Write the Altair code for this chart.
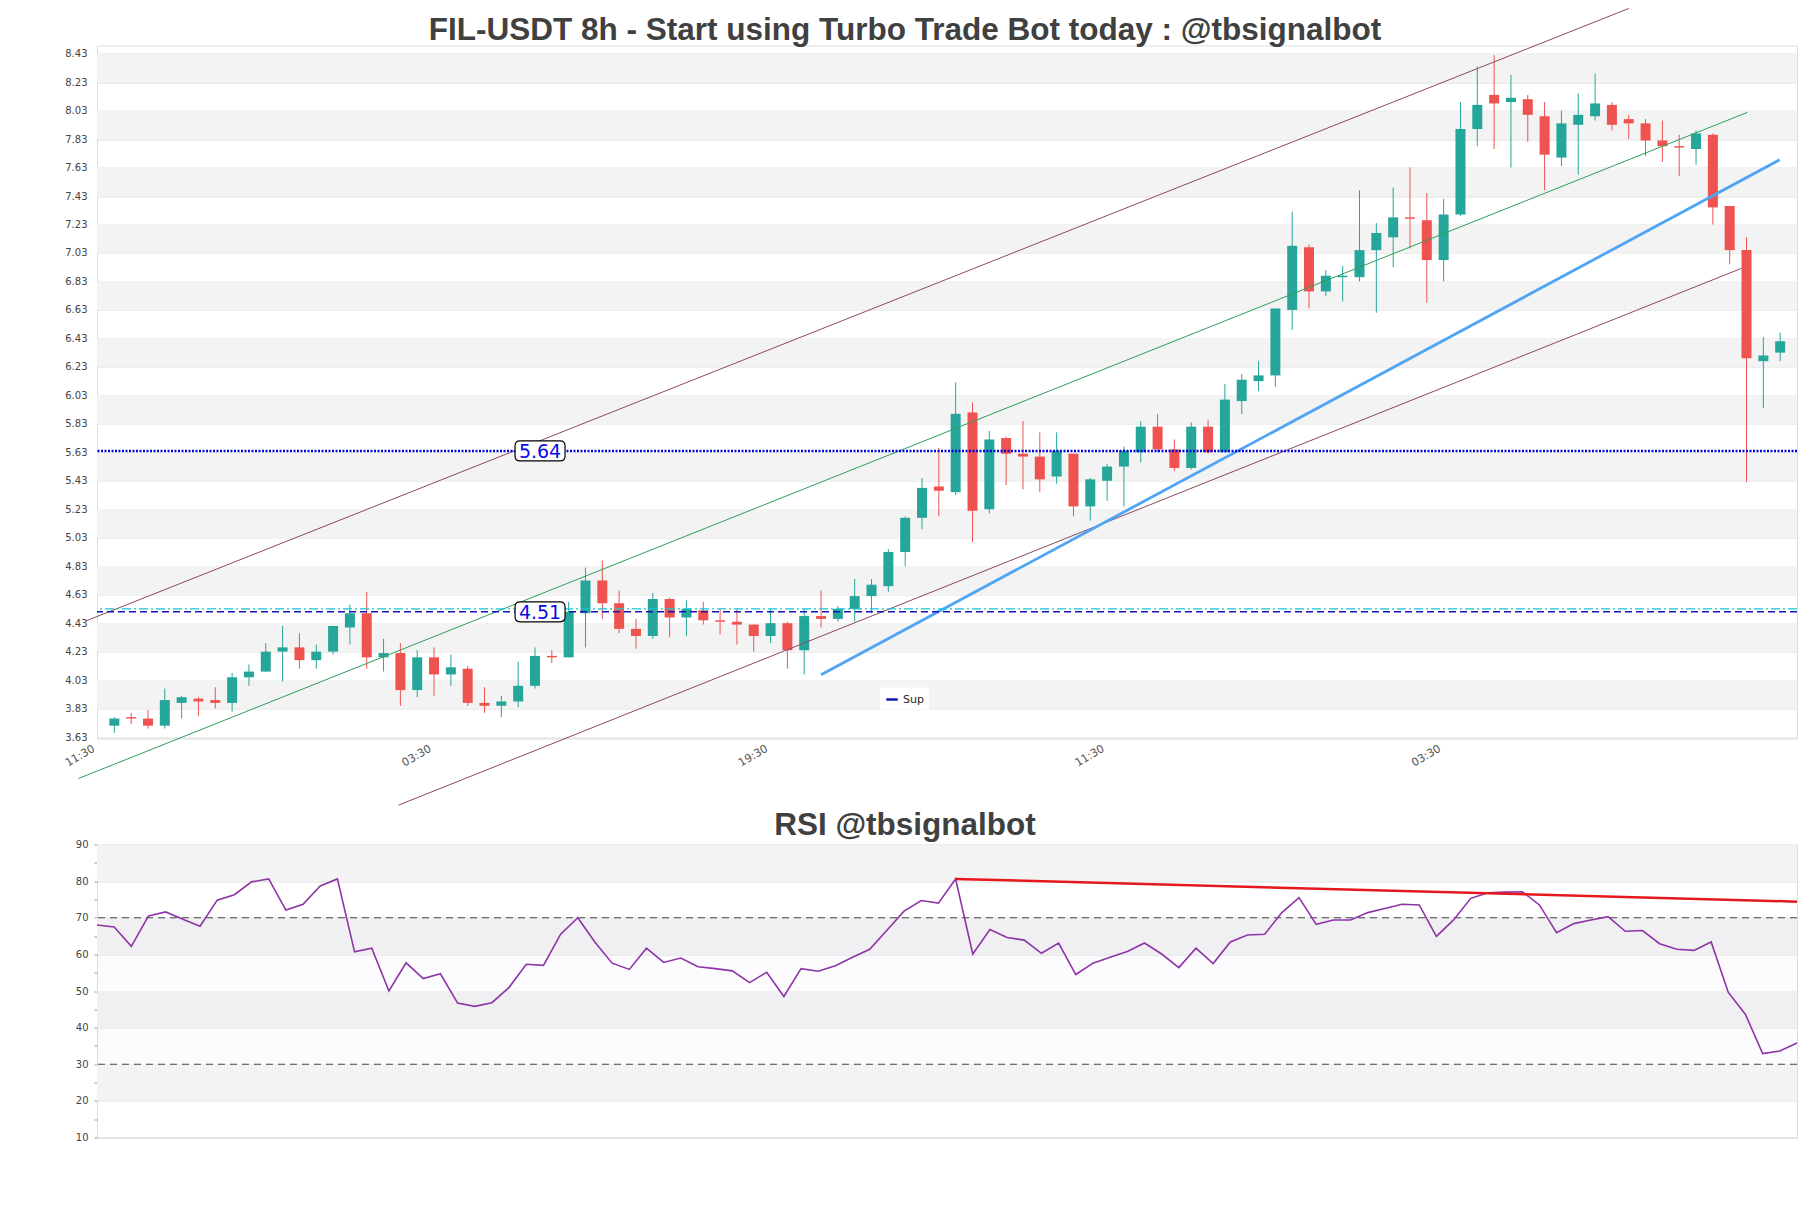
import altair as alt
import pandas as pd

# ---------------- data ----------------
opens = [3.71, 3.77, 3.76, 3.71, 3.87, 3.90, 3.89, 3.87, 4.05, 4.09,
         4.23, 4.26, 4.17, 4.23, 4.40, 4.50, 4.19, 4.22, 3.96, 4.19,
         4.07, 4.11, 3.87, 3.85, 3.88, 3.99, 4.20, 4.19, 4.50, 4.73,
         4.57, 4.39, 4.34, 4.60, 4.47, 4.52, 4.45, 4.44, 4.42, 4.34,
         4.43, 4.24, 4.48, 4.46, 4.53, 4.62, 4.69, 4.93, 5.17, 5.39,
         5.35, 5.91, 5.23, 5.73, 5.62, 5.60, 5.46, 5.62, 5.25, 5.43,
         5.53, 5.63, 5.81, 5.65, 5.52, 5.81, 5.63, 5.99, 6.13, 6.17,
         6.63, 7.07, 6.76, 6.86, 6.86, 7.05, 7.14, 7.28, 7.26, 6.98,
         7.30, 7.90, 8.14, 8.09, 8.11, 7.99, 7.70, 7.93, 7.99, 8.07,
         7.97, 7.94, 7.82, 7.78, 7.76, 7.86, 7.36, 7.05, 6.27, 6.33]
highs = [3.77, 3.80, 3.82, 3.97, 3.92, 3.91, 3.98, 4.08, 4.14, 4.29,
         4.41, 4.36, 4.28, 4.41, 4.56, 4.65, 4.32, 4.29, 4.24, 4.26,
         4.21, 4.13, 3.98, 3.92, 4.16, 4.26, 4.24, 4.58, 4.82, 4.87,
         4.66, 4.46, 4.64, 4.61, 4.59, 4.58, 4.53, 4.53, 4.42, 4.53,
         4.44, 4.53, 4.66, 4.55, 4.74, 4.74, 4.95, 5.18, 5.45, 5.66,
         6.12, 5.98, 5.78, 5.74, 5.85, 5.77, 5.77, 5.62, 5.45, 5.55,
         5.67, 5.85, 5.90, 5.72, 5.84, 5.86, 6.11, 6.18, 6.27, 6.64,
         7.32, 7.09, 6.91, 6.94, 7.47, 7.24, 7.49, 7.63, 7.45, 7.41,
         8.09, 8.34, 8.42, 8.28, 8.14, 8.09, 8.03, 8.15, 8.29, 8.09,
         8.00, 7.97, 7.96, 7.86, 7.89, 7.87, 7.36, 7.14, 6.44, 6.47]
lows = [3.66, 3.72, 3.69, 3.69, 3.76, 3.78, 3.83, 3.81, 3.99, 4.09,
        4.02, 4.11, 4.11, 4.21, 4.28, 4.11, 4.09, 3.85, 3.91, 3.92,
        3.99, 3.85, 3.80, 3.77, 3.84, 3.97, 4.15, 4.19, 4.26, 4.46,
        4.36, 4.25, 4.32, 4.33, 4.34, 4.42, 4.35, 4.28, 4.23, 4.29,
        4.11, 4.07, 4.40, 4.44, 4.44, 4.50, 4.65, 4.83, 5.09, 5.18,
        5.33, 5.00, 5.20, 5.40, 5.37, 5.35, 5.41, 5.18, 5.15, 5.29,
        5.25, 5.56, 5.63, 5.50, 5.51, 5.62, 5.63, 5.90, 6.06, 6.09,
        6.49, 6.64, 6.73, 6.69, 6.83, 6.61, 6.93, 7.06, 6.68, 6.83,
        7.29, 7.78, 7.76, 7.63, 7.81, 7.47, 7.64, 7.58, 7.96, 7.89,
        7.83, 7.71, 7.67, 7.57, 7.65, 7.23, 6.95, 5.42, 5.94, 6.27]
closes = [3.76, 3.76, 3.71, 3.89, 3.91, 3.88, 3.87, 4.05, 4.09, 4.23,
          4.26, 4.17, 4.23, 4.41, 4.50, 4.19, 4.22, 3.96, 4.19, 4.07,
          4.12, 3.87, 3.85, 3.88, 3.99, 4.20, 4.19, 4.51, 4.73, 4.57,
          4.39, 4.34, 4.60, 4.47, 4.53, 4.45, 4.44, 4.42, 4.34, 4.43,
          4.24, 4.48, 4.46, 4.53, 4.62, 4.70, 4.93, 5.17, 5.38, 5.36,
          5.90, 5.22, 5.72, 5.62, 5.60, 5.44, 5.64, 5.25, 5.44, 5.53,
          5.64, 5.81, 5.65, 5.52, 5.81, 5.63, 6.00, 6.14, 6.17, 6.64,
          7.08, 6.76, 6.87, 6.87, 7.05, 7.17, 7.28, 7.27, 6.98, 7.30,
          7.90, 8.07, 8.08, 8.12, 8.00, 7.72, 7.94, 8.00, 8.08, 7.93,
          7.94, 7.82, 7.78, 7.77, 7.87, 7.35, 7.05, 6.29, 6.31, 6.41]

rsi_values = [68.0, 67.5, 62.2, 70.5, 71.6, 69.6, 67.7, 74.8, 76.3, 79.8,
              80.6, 72.1, 73.7, 78.7, 80.6, 60.7, 61.7, 50.0, 57.7, 53.4,
              54.7, 46.7, 45.8, 46.8, 51.0, 57.3, 57.0, 65.5, 70.0, 63.3,
              57.6, 55.9, 61.7, 57.8, 59.0, 56.6, 56.1, 55.5, 52.3, 55.1,
              48.5, 56.1, 55.4, 56.9, 59.2, 61.4, 66.6, 71.8, 74.7, 74.0,
              80.6, 60.1, 66.8, 64.6, 63.9, 60.3, 63.1, 54.5, 57.6, 59.2,
              60.8, 63.1, 60.1, 56.4, 61.7, 57.5, 63.4, 65.3, 65.5, 71.4,
              75.5, 68.2, 69.4, 69.4, 71.4, 72.5, 73.7, 73.5, 64.9, 69.4,
              75.3, 76.8, 77.0, 77.1, 73.5, 65.9, 68.4, 69.4, 70.3, 66.3,
              66.5, 62.9, 61.4, 61.1, 63.4, 49.6, 43.6, 32.9, 33.6, 35.8]

candle_index = list(range(len(opens)))

# price axis ticks and bands
y_ticks = [3.63, 3.83, 4.03, 4.23, 4.43, 4.63, 4.83, 5.03, 5.23, 5.43, 5.63, 5.83,
           6.03, 6.23, 6.43, 6.63, 6.83, 7.03, 7.23, 7.43, 7.63, 7.83, 8.03, 8.23, 8.43]
band_hi = [8.43, 8.03, 7.63, 7.23, 6.83, 6.43, 6.03, 5.63, 5.23, 4.83, 4.43, 4.03]
band_lo = [8.23, 7.83, 7.43, 7.03, 6.63, 6.23, 5.83, 5.43, 5.03, 4.63, 4.23, 3.83]

# x tick positions (candle index) and labels
x_tick_pos = [-1, 19, 39, 59, 79]
x_tick_labels = ["11:30", "03:30", "19:30", "11:30", "03:30"]

# trend / channel lines (candle index, price)
upper_i = [-1.7, 90.0]
upper_p = [4.445, 8.747]
mid_i = [-2.13, 97.04]
mid_p = [3.339, 8.017]
lower_i = [16.89, 96.7]
lower_p = [3.152, 6.922]
blue_i = [42.0, 98.97]
blue_p = [4.068, 7.684]

# horizontal levels
res_level = [5.64]
sup_level = [4.51]
sup2_level = [4.53]
label_i = [25.3, 25.3]
label_p = [5.64, 4.51]
label_text = ["5.64", "4.51"]

# RSI panel
rsi_ticks = [10, 15, 20, 25, 30, 35, 40, 45, 50, 55, 60, 65, 70, 75, 80, 85, 90]
rsi_band_lo = [80, 60, 40, 20]
rsi_band_hi = [90, 70, 50, 30]
rsi_zone = [30, 70]
rsi_levels = [70, 30]
rsi_trend_i = [50, 99]
rsi_trend_v = [80.6, 74.4]

# ---------------- styling ----------------
GREEN = "#26a69a"
RED = "#ef5350"
W = 1700
H_MAIN = 693
H_RSI = 293
TITLE_FONT = "Liberation Sans"
TITLE_FS = 31.5

xs = alt.Scale(domain=[-1.03, 100.0], nice=False, zero=False, padding=0)
ys = alt.Scale(domain=[3.62, 8.487], nice=False, zero=False)

label_map = "{" + ",".join(f"'{p}':'{l}'" for p, l in zip(x_tick_pos, x_tick_labels)) + "}"
xaxis = alt.Axis(values=x_tick_pos, labelExpr=f"{label_map}[''+datum.value]", labelAngle=-30,
                 labelOffset=-7, ticks=False, grid=False, domain=False, labelPadding=4,
                 labelFontSize=11, labelColor="#555555", title=None)
yaxis = alt.Axis(values=y_ticks, format=".2f", ticks=False, domain=False, labelPadding=10,
                 labelFontSize=10, labelColor="#444444", gridColor="#dddddd", title=None)

candles = pd.DataFrame({"i": candle_index, "open": opens, "high": highs,
                        "low": lows, "close": closes})
col = alt.condition("datum.close >= datum.open", alt.value(GREEN), alt.value(RED))

X = alt.X("i:Q", scale=xs, axis=xaxis)

bands = alt.Chart(pd.DataFrame({"lo": band_lo, "hi": band_hi})).mark_rect(color="#f3f3f3").encode(
    x=alt.value(0), x2=alt.value("width"),
    y=alt.Y("hi:Q", scale=ys, axis=yaxis), y2="lo:Q")

wicks = alt.Chart(candles).mark_rule(strokeWidth=1).encode(
    x=X, y=alt.Y("low:Q", scale=ys, axis=yaxis), y2="high:Q", color=col)
bodies = alt.Chart(candles).mark_bar(size=10).encode(
    x=X, y=alt.Y("open:Q", scale=ys, axis=yaxis), y2="close:Q", color=col)


def seg(i_vals, p_vals, color, width):
    return alt.Chart(pd.DataFrame({"i": i_vals, "p": p_vals})).mark_line(
        color=color, strokeWidth=width).encode(
        x=X, y=alt.Y("p:Q", scale=ys, axis=yaxis))


upper = seg(upper_i, upper_p, "#8b4a62", 1)
mid = seg(mid_i, mid_p, "#2e9e5b", 1)
lower = seg(lower_i, lower_p, "#8b4a62", 1)
blue = seg(blue_i, blue_p, "#4ea5f5", 2.8)

res_rule = alt.Chart(pd.DataFrame({"p": res_level})).mark_rule(
    color="#0000dd", strokeWidth=2.5, strokeDash=[2, 1.5]).encode(
    y=alt.Y("p:Q", scale=ys, axis=yaxis))
sup2_rule = alt.Chart(pd.DataFrame({"p": sup2_level})).mark_rule(
    color="#19c3d6", strokeWidth=1.2, strokeDash=[9, 3, 2, 3]).encode(
    y=alt.Y("p:Q", scale=ys, axis=yaxis))
sup_rule = alt.Chart(pd.DataFrame({"p": sup_level, "name": ["Sup"]})).mark_rule(
    strokeWidth=1.6, strokeDash=[7, 4]).encode(
    y=alt.Y("p:Q", scale=ys, axis=yaxis),
    color=alt.Color("name:N", scale=alt.Scale(domain=["Sup"], range=["#1414b4"]),
                    legend=alt.Legend(title=None, orient="none", legendX=783, legendY=642,
                                      fillColor="white", padding=5, symbolType="stroke",
                                      symbolStrokeWidth=2.5, symbolSize=130,
                                      labelFont="DejaVu Sans", labelFontSize=11,
                                      labelColor="#222222")))

box_path = ("M -0.8 -0.4 L 0.8 -0.4 Q 1 -0.4 1 -0.2 L 1 0.2 Q 1 0.4 0.8 0.4 "
            "L -0.8 0.4 Q -1 0.4 -1 0.2 L -1 -0.2 Q -1 -0.4 -0.8 -0.4 Z")
labels_df = pd.DataFrame({"i": label_i, "p": label_p, "t": label_text})
boxes = alt.Chart(labels_df).mark_point(shape=box_path, size=2500, filled=True, fill="white",
                                        stroke="black", strokeWidth=1.2, opacity=1).encode(
    x=X, y=alt.Y("p:Q", scale=ys, axis=yaxis))
texts = alt.Chart(labels_df).mark_text(font="DejaVu Sans", fontSize=19, color="#0a0ae6",
                                       align="center", baseline="middle", dy=1).encode(
    x=X, y=alt.Y("p:Q", scale=ys, axis=yaxis), text="t:N")

main = alt.layer(bands, wicks, bodies, upper, mid, lower, blue, res_rule, sup2_rule, sup_rule,
                 boxes, texts).properties(
    width=W, height=H_MAIN,
    title=alt.TitleParams("FIL-USDT 8h - Start using Turbo Trade Bot today : @tbsignalbot",
                          font=TITLE_FONT, fontSize=TITLE_FS, fontWeight="bold",
                          color="#404040", anchor="middle", frame="group", dx=-42,
                          offset=-65.5, baseline="alphabetic"))

# ---------------- RSI panel ----------------
rx = alt.Scale(domain=[0, 99], nice=False, zero=False, padding=0)
ry = alt.Scale(domain=[10, 90], nice=False, zero=False)
ryaxis = alt.Axis(values=rsi_ticks, labelExpr="datum.value % 10 == 0 ? datum.label : ''",
                  tickSize=3, tickColor="#999999", domain=False, labelPadding=6,
                  labelFontSize=10, labelColor="#444444", title=None, gridColor="#dddddd",
                  gridOpacity={"condition": {"test": "datum.value % 10 == 0", "value": 1},
                               "value": 0})
RY = lambda f: alt.Y(f, scale=ry, axis=ryaxis)
RX = alt.X("i:Q", scale=rx, axis=None)

rbands = alt.Chart(pd.DataFrame({"lo": rsi_band_lo, "hi": rsi_band_hi})).mark_rect(
    color="#f3f3f3").encode(x=alt.value(0), x2=alt.value("width"), y=RY("hi:Q"), y2="lo:Q")
rzone = alt.Chart(pd.DataFrame({"lo": [rsi_zone[0]], "hi": [rsi_zone[1]]})).mark_rect(
    color="#8040a0", opacity=0.025).encode(x=alt.value(0), x2=alt.value("width"),
                                           y=RY("hi:Q"), y2="lo:Q")
rlevels = alt.Chart(pd.DataFrame({"v": rsi_levels})).mark_rule(
    color="#444444", strokeWidth=1.2, strokeDash=[7, 5]).encode(y=RY("v:Q"))
rline = alt.Chart(pd.DataFrame({"i": candle_index, "v": rsi_values})).mark_line(
    color="#8e35a6", strokeWidth=1.6).encode(x=RX, y=RY("v:Q"))
rtrend = alt.Chart(pd.DataFrame({"i": rsi_trend_i, "v": rsi_trend_v})).mark_line(
    color="#e5181e", strokeWidth=2.5).encode(x=RX, y=RY("v:Q"))

rsi = alt.layer(rbands, rzone, rlevels, rline, rtrend).properties(
    width=W, height=H_RSI,
    title=alt.TitleParams("RSI @tbsignalbot", font=TITLE_FONT, fontSize=TITLE_FS,
                          fontWeight="bold", color="#404040", anchor="middle", frame="group",
                          dx=-42, offset=-27, baseline="alphabetic"))

chart = alt.vconcat(main, rsi, spacing=106, bounds="flush").properties(
    padding={"left": 54, "top": -2.5, "right": 0, "bottom": 5}
).configure_view(stroke="#dddddd").configure_axis(labelFont="DejaVu Sans")

chart.save("out.html", embed_options={"renderer": "svg", "actions": False})
